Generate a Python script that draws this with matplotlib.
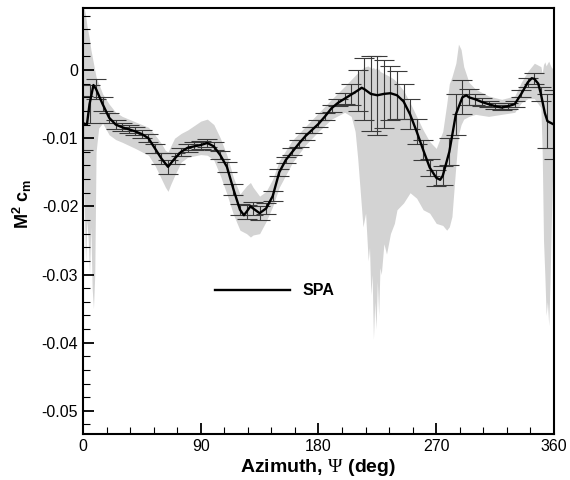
import numpy as np
import matplotlib
matplotlib.use('Agg')
import matplotlib.pyplot as plt
from matplotlib.ticker import MultipleLocator, FuncFormatter

# mean curve (SPA), azimuth in deg
psi = [0, 3, 5, 8, 10, 15, 20, 25, 30, 35, 40, 45, 50, 55, 60, 65, 70, 75, 80, 85,
       90, 95, 100, 105, 110, 115, 120, 123, 125, 128, 130, 135, 140, 145, 150, 155,
       160, 165, 170, 175, 180, 185, 190, 195, 200, 205, 210, 213, 215, 220, 225, 230,
       235, 240, 245, 250, 255, 260, 265, 270, 273, 275, 280, 285, 290, 293, 295, 300,
       305, 310, 315, 320, 325, 330, 335, 340, 343, 345, 348, 350, 353, 355, 360]
cm = [-0.0078, -0.0080, -0.0050, -0.0022, -0.0028, -0.0050, -0.0070, -0.0080, -0.0084,
      -0.0087, -0.0090, -0.0094, -0.0100, -0.0115, -0.0130, -0.0142, -0.0130, -0.0120,
      -0.0114, -0.0112, -0.0110, -0.0107, -0.0112, -0.0125, -0.0142, -0.0175, -0.0205,
      -0.0213, -0.0208, -0.0200, -0.0203, -0.0210, -0.0203, -0.0185, -0.0150, -0.0132,
      -0.0120, -0.0108, -0.0097, -0.0088, -0.0079, -0.0068, -0.0056, -0.0048, -0.0042,
      -0.0036, -0.0030, -0.0026, -0.0028, -0.0035, -0.0037, -0.0035, -0.0034, -0.0037,
      -0.0046, -0.0065, -0.0090, -0.0117, -0.0143, -0.0158, -0.0161, -0.0155, -0.0120,
      -0.0065, -0.0040, -0.0037, -0.0040, -0.0043, -0.0047, -0.0050, -0.0053, -0.0055,
      -0.0053, -0.0050, -0.0035, -0.0018, -0.0012, -0.0013, -0.0020, -0.0035, -0.0063,
      -0.0075, -0.0080]
# error bar half widths (0 = no bar at that point)
err = [0.0040, 0, 0.0028, 0, 0.0015, 0.0010, 0.0007, 0.0006, 0.0006, 0.0006, 0.0006,
       0.0006, 0.0006, 0.0007, 0.0008, 0.0010, 0.0008, 0.0006, 0.0006, 0.0006, 0.0006,
       0.0006, 0.0006, 0.0006, 0.0007, 0.0008, 0.0008, 0, 0.0010, 0, 0.0010, 0.0010,
       0.0008, 0.0007, 0.0005, 0.0005, 0.0005, 0.0005, 0.0005, 0.0005, 0.0005, 0.0005,
       0.0005, 0.0005, 0.0008, 0.0015, 0.0030, 0, 0.0045, 0.0055, 0.0058, 0.0050,
       0.0040, 0.0035, 0.0026, 0.0022, 0.0018, 0.0015, 0.0012, 0.0012, 0, 0.0014,
       0.0020, 0.0030, 0.0025, 0, 0.0012, 0.0008, 0.0006, 0.0004, 0.0004, 0.0004,
       0.0004, 0.0004, 0.0005, 0.0007, 0, 0.0008, 0, 0.0010, 0, 0.0040, 0.0050]

# scatter envelope of the individual samples (grey band)
band_psi = [0, 1, 2, 3, 4, 5, 6, 7, 8, 9, 10, 12, 15, 20, 25, 30, 40, 50, 55, 60, 63,
            65, 67, 70, 75, 80, 90, 95, 100, 105, 110, 115, 120, 125, 128, 130, 135,
            140, 145, 150, 160, 170, 180, 190, 200, 205, 208, 210, 212, 214, 216, 218,
            219, 220, 221, 222, 223, 224, 225, 226, 227, 228, 230, 232, 235, 238, 240,
            245, 250, 255, 260, 265, 270, 275, 278, 280, 282, 285, 287, 289, 291, 295,
            300, 310, 320, 330, 335, 340, 345, 350, 351, 352, 353, 354, 355, 356, 357,
            358, 359, 360]
band_hi = [0.0090, 0.0090, 0.0080, 0.0065, 0.0055, 0.0045, 0.0030, 0.0020, 0.0010,
           0.0000, -0.0010, -0.0020, -0.0035, -0.0050, -0.0062, -0.0068, -0.0076,
           -0.0084, -0.0095, -0.0108, -0.0118, -0.0120, -0.0112, -0.0100, -0.0093,
           -0.0088, -0.0075, -0.0072, -0.0080, -0.0100, -0.0125, -0.0158, -0.0182,
           -0.0170, -0.0165, -0.0172, -0.0185, -0.0178, -0.0160, -0.0133, -0.0103,
           -0.0083, -0.0063, -0.0043, -0.0024, -0.0014, -0.0008, -0.0004, 0.0000,
           0.0003, 0.0005, 0.0006, 0.0004, 0.0005, 0.0002, 0.0004, 0.0001, 0.0003,
           0.0000, 0.0002, -0.0002, -0.0003, -0.0005, -0.0007, -0.0010, -0.0014,
           -0.0018, -0.0030, -0.0048, -0.0068, -0.0088, -0.0105, -0.0115, -0.0090,
           -0.0050, -0.0020, -0.0010, 0.0010, 0.0038, 0.0030, 0.0005, -0.0018, -0.0028,
           -0.0038, -0.0043, -0.0038, -0.0018, -0.0002, 0.0010, 0.0005, -0.0005, 0.0008,
           0.0012, 0.0006, 0.0010, 0.0013, 0.0008, 0.0004, 0.0002, 0.0000]
band_lo = [-0.0120, -0.0200, -0.0280, -0.0220, -0.0250, -0.0300, -0.0230, -0.0320,
           -0.0350, -0.0300, -0.0120, -0.0085, -0.0078, -0.0095, -0.0102, -0.0106,
           -0.0115, -0.0125, -0.0140, -0.0160, -0.0172, -0.0178, -0.0168, -0.0155,
           -0.0135, -0.0128, -0.0124, -0.0125, -0.0132, -0.0155, -0.0182, -0.0212,
           -0.0235, -0.0240, -0.0245, -0.0242, -0.0240, -0.0222, -0.0200, -0.0172,
           -0.0136, -0.0110, -0.0090, -0.0072, -0.0062, -0.0068, -0.0090, -0.0130,
           -0.0180, -0.0230, -0.0210, -0.0280, -0.0260, -0.0330, -0.0300, -0.0395,
           -0.0340, -0.0380, -0.0310, -0.0360, -0.0290, -0.0300, -0.0255, -0.0270,
           -0.0240, -0.0225, -0.0205, -0.0195, -0.0180, -0.0188, -0.0205, -0.0210,
           -0.0225, -0.0228, -0.0235, -0.0230, -0.0215, -0.0140, -0.0095, -0.0080,
           -0.0072, -0.0068, -0.0065, -0.0068, -0.0065, -0.0062, -0.0048, -0.0042,
           -0.0042, -0.0055, -0.0120, -0.0250, -0.0300, -0.0360, -0.0340, -0.0375,
           -0.0310, -0.0220, -0.0150, -0.0100]

plt.rcParams['font.family'] = ['Liberation Sans', 'DejaVu Sans']
plt.rcParams['axes.unicode_minus'] = False
plt.rcParams['mathtext.fontset'] = 'custom'
plt.rcParams['mathtext.rm'] = 'Liberation Serif'
plt.rcParams['mathtext.bf'] = 'Liberation Sans:bold'

fig = plt.figure(figsize=(5.7, 4.8), dpi=100)
ax = fig.add_axes([0.1456, 0.0958, 0.8263, 0.8875])

ax.fill_between(band_psi, band_lo, band_hi, color='#d3d3d3', lw=0, zorder=1)

psi_a = np.array(psi)
cm_a = np.array(cm)
err_a = np.array(err)
m = err_a > 0
ax.errorbar(psi_a[m], cm_a[m], yerr=err_a[m], fmt='none', ecolor='#3a3a3a',
            elinewidth=0.8, capsize=7, capthick=0.8, zorder=2)
ax.plot(psi, cm, color='black', lw=1.7, zorder=3, label='SPA')

ax.set_xlim(0, 360)
ax.set_ylim(-0.0534, 0.0091)
ax.xaxis.set_major_locator(MultipleLocator(90))
ax.xaxis.set_minor_locator(MultipleLocator(18))
ax.yaxis.set_major_locator(MultipleLocator(0.01))
ax.yaxis.set_minor_locator(MultipleLocator(0.002))
ax.yaxis.set_major_formatter(FuncFormatter(lambda v, p: '%g' % (round(v, 4) + 0.0)))
ax.tick_params(which='both', direction='in', top=False, right=False, labelsize=11.5)
ax.tick_params(which='major', length=8, width=1.3)
ax.tick_params(which='minor', length=5, width=0.8)
for s in ax.spines.values():
    s.set_linewidth(1.5)

ax.set_xlabel(r'Azimuth, $\Psi$ (deg)', fontsize=14, fontweight='bold', labelpad=2)
ax.set_ylabel(r'M$^{\mathbf{2}}$ c$_{\mathbf{m}}$', fontsize=13, fontweight='bold')
ax.yaxis.set_label_coords(-0.105, 0.54)

leg = ax.legend(loc='center left', bbox_to_anchor=(0.28, 0.336), frameon=False,
                handlelength=4.7, handletextpad=0.8, borderpad=0, borderaxespad=0,
                prop={'weight': 'bold', 'size': 11.5})

fig.savefig('out.png', dpi=100)
